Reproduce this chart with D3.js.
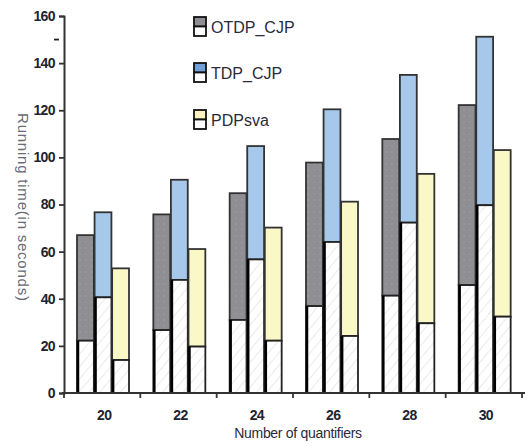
<!DOCTYPE html>
<html>
<head>
<meta charset="utf-8">
<script src="https://cdn.jsdelivr.net/npm/d3@7"></script>
<style>
  html, body { margin: 0; padding: 0; background: #ffffff; }
  svg { display: block; }
  text { font-family: "Liberation Sans", Arial, sans-serif; }
</style>
</head>
<body>
<svg id="chart" width="528" height="448"></svg>
<script>
// Number of quantifiers on the x axis
const categories = ["20", "22", "24", "26", "28", "30"];
const seriesNames = ["OTDP_CJP", "TDP_CJP", "PDPsva"];
// Running time split into the lower (hatched) part and the total height
const otdpLower = [22.2, 26.7, 31, 36.9, 41.3, 45.8];
const otdpTotal = [67, 75.8, 84.8, 97.8, 107.8, 122.2];
const tdpLower = [40.6, 48, 56.7, 64.1, 72.3, 79.7];
const tdpTotal = [76.7, 90.5, 104.8, 120.4, 135, 151.2];
const pdpLower = [14, 19.7, 22.2, 24.2, 29.6, 32.4];
const pdpTotal = [52.9, 61.1, 70.2, 81.2, 93, 103.1];
const yTicks = [0, 20, 40, 60, 80, 100, 120, 140, 160];

const lowers = [otdpLower, tdpLower, pdpLower];
const totals = [otdpTotal, tdpTotal, pdpTotal];
const topColors = ["#8f8f93", "#a6c8ea", "#faf8c6"];

const svg = d3.select("#chart");
const plotLeft = 64, plotRight = 522, plotTop = 16, plotBottom = 393;

const x = d3.scaleBand().domain(categories).range([plotLeft, plotRight]).padding(0);
const xs = d3.scaleBand().domain(seriesNames).range([13, 65]).paddingInner(0.04);
const y = d3.scaleLinear().domain([0, 160]).range([plotBottom, plotTop]);

// patterns: light diagonal hatch for the lower parts, faint dots for gray
const defs = svg.append("defs");
const hatch = defs.append("pattern").attr("id", "hatch")
  .attr("patternUnits", "userSpaceOnUse").attr("width", 8).attr("height", 8)
  .attr("patternTransform", "rotate(40)");
hatch.append("rect").attr("width", 8).attr("height", 8).attr("fill", "#ffffff");
hatch.append("line").attr("x1", 0).attr("y1", 0).attr("x2", 0).attr("y2", 8)
  .attr("stroke", "#d6d6d6").attr("stroke-width", 1);
const dots = defs.append("pattern").attr("id", "dots")
  .attr("patternUnits", "userSpaceOnUse").attr("width", 6).attr("height", 6);
dots.append("rect").attr("width", 6).attr("height", 6).attr("fill", topColors[0]);
dots.append("circle").attr("cx", 2).attr("cy", 2).attr("r", 0.7).attr("fill", "#a2a2a6");

const rows = [];
categories.forEach((c, i) => {
  seriesNames.forEach((s, k) => {
    rows.push({ cat: c, series: s, k, lower: lowers[k][i], total: totals[k][i] });
  });
});

const g = svg.append("g");
const bars = g.selectAll("g.bar").data(rows).enter().append("g").attr("class", "bar");

// upper coloured segment
bars.append("rect")
  .attr("x", d => x(d.cat) + xs(d.series))
  .attr("y", d => y(d.total))
  .attr("width", xs.bandwidth())
  .attr("height", d => y(d.lower) - y(d.total))
  .attr("fill", d => d.k === 0 ? "url(#dots)" : topColors[d.k])
  .attr("stroke", "#333").attr("stroke-width", 1.8);

// lower hatched segment
bars.append("rect")
  .attr("x", d => x(d.cat) + xs(d.series))
  .attr("y", d => y(d.lower))
  .attr("width", xs.bandwidth())
  .attr("height", d => y(0) - y(d.lower))
  .attr("fill", "url(#hatch)")
  .attr("stroke", "#222").attr("stroke-width", 1.8);

// heavy shadow edge on the left of the lower segment
bars.append("line")
  .attr("x1", d => x(d.cat) + xs(d.series) + 1)
  .attr("x2", d => x(d.cat) + xs(d.series) + 1)
  .attr("y1", d => y(d.lower))
  .attr("y2", y(0))
  .attr("stroke", "#000").attr("stroke-width", 2.5);

// y axis
const yAxis = svg.append("g").attr("transform", `translate(${plotLeft},0)`)
  .call(d3.axisLeft(y).tickValues(yTicks).tickSize(5).tickPadding(4));
yAxis.select(".domain").attr("stroke", "#333").attr("stroke-width", 2);
yAxis.selectAll(".tick line").attr("stroke", "#333").attr("stroke-width", 1.8);
yAxis.selectAll(".tick text").attr("font-size", 14).attr("font-weight", "bold")
  .attr("fill", "#23232f").attr("letter-spacing", "-0.6");
// small extra mark at 150
svg.append("line").attr("x1", 54).attr("x2", 59)
  .attr("y1", y(150)).attr("y2", y(150))
  .attr("stroke", "#222").attr("stroke-width", 1.8);

// x axis with ticks between groups
const xAxisG = svg.append("g").attr("transform", `translate(0,${plotBottom})`);
xAxisG.append("line").attr("x1", plotLeft - 2).attr("x2", 525).attr("y1", 0).attr("y2", 0)
  .attr("stroke", "#333").attr("stroke-width", 2);
const boundaries = [plotLeft].concat(categories.map(c => x(c) + x.bandwidth()));
xAxisG.selectAll("line.tk").data(boundaries).enter().append("line")
  .attr("class", "tk")
  .attr("x1", d => d).attr("x2", d => d).attr("y1", 0).attr("y2", 5)
  .attr("stroke", "#333").attr("stroke-width", 1.8);
xAxisG.selectAll("text.lbl").data(categories).enter().append("text")
  .attr("class", "lbl")
  .attr("x", d => x(d) + x.bandwidth() / 2 + 2)
  .attr("y", 27)
  .attr("text-anchor", "middle")
  .attr("font-size", 14).attr("font-weight", "bold").attr("fill", "#23232f")
  .attr("letter-spacing", "-0.6")
  .text(d => d);

svg.append("text")
  .attr("x", 298).attr("y", 438)
  .attr("text-anchor", "middle")
  .attr("font-size", 14).attr("fill", "#2a2a3a")
  .attr("letter-spacing", "-0.3")
  .text("Number of quantifiers");

svg.append("text")
  .attr("transform", "translate(18,207) rotate(90)")
  .attr("text-anchor", "middle")
  .attr("font-size", 15).attr("fill", "#6a6a78")
  .attr("textLength", 188).attr("lengthAdjust", "spacing")
  .text("Running time(in seconds)");

// legend: each swatch is a coloured cell above a white cell
const legendTops = [17, 63, 110];
const legendFill = ["#8f8f93", "#6f9fd6", "#faf3c0"];
const lg = svg.append("g").selectAll("g").data(seriesNames).enter().append("g")
  .attr("transform", (d, i) => `translate(194,${legendTops[i]})`);
lg.append("rect").attr("x", 0).attr("y", 0).attr("width", 12).attr("height", 9.5)
  .attr("fill", (d, i) => legendFill[i]).attr("stroke", "#111").attr("stroke-width", 1.8);
lg.append("rect").attr("x", 0).attr("y", 9.5).attr("width", 12).attr("height", 9.5)
  .attr("fill", "#ffffff").attr("stroke", "#111").attr("stroke-width", 1.8);
lg.append("text").attr("x", 17).attr("y", 15.5)
  .attr("font-size", 16).attr("fill", "#2a2a3a")
  .text(d => d);
</script>
</body>
</html>
